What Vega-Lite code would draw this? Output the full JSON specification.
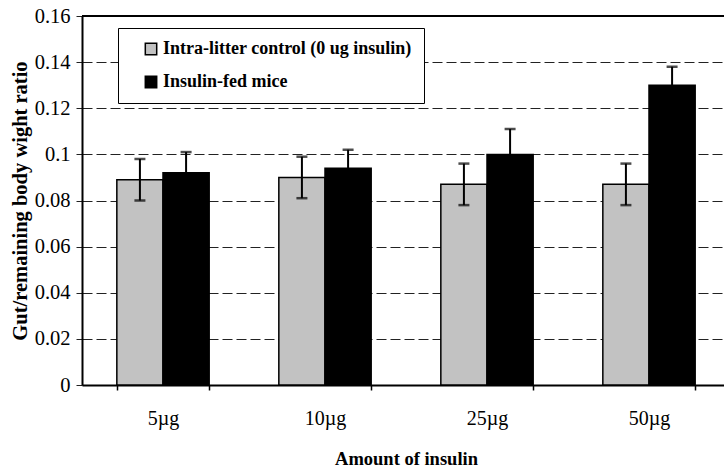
{
  "$schema": "https://vega.github.io/schema/vega-lite/v6.json",
  "autosize": {"type": "none"},
  "padding": {"left": 82, "top": 16, "right": 0, "bottom": 87},
  "width": 642,
  "height": 369,
  "background": "white",
  "config": {
    "view": {"stroke": null},
    "font": "Liberation Serif",
    "axisY": {"title": "Gut/remaining body wight ratio", "titleFontSize": 20.5, "titleFontWeight": "bold", "titleColor": "black", "titlePadding": 4,
      "values": [0, 0.02, 0.04, 0.06, 0.08, 0.1, 0.12, 0.14, 0.16], "format": "~g",
      "labelFontSize": 20.5, "labelColor": "black", "labelPadding": 6,
      "domainColor": "black", "domainWidth": 2, "tickColor": "#222", "tickSize": 6, "tickWidth": 1,
      "grid": true, "gridColor": "#222", "gridDash": [10, 4], "gridWidth": 1}
  },
  "data": {"values": [
    {"dose": "5µg", "group": "Intra-litter control (0 ug insulin)", "mean": 0.089, "lo": 0.080, "hi": 0.098},
    {"dose": "5µg", "group": "Insulin-fed mice", "mean": 0.092, "lo": 0.083, "hi": 0.101},
    {"dose": "10µg", "group": "Intra-litter control (0 ug insulin)", "mean": 0.090, "lo": 0.081, "hi": 0.099},
    {"dose": "10µg", "group": "Insulin-fed mice", "mean": 0.094, "lo": 0.086, "hi": 0.102},
    {"dose": "25µg", "group": "Intra-litter control (0 ug insulin)", "mean": 0.087, "lo": 0.078, "hi": 0.096},
    {"dose": "25µg", "group": "Insulin-fed mice", "mean": 0.100, "lo": 0.089, "hi": 0.111},
    {"dose": "50µg", "group": "Intra-litter control (0 ug insulin)", "mean": 0.087, "lo": 0.078, "hi": 0.096},
    {"dose": "50µg", "group": "Insulin-fed mice", "mean": 0.130, "lo": 0.122, "hi": 0.138}
  ]},
  "layer": [
    {
      "mark": {"type": "bar", "stroke": "black", "strokeWidth": 1.5},
      "encoding": {
        "x": {"field": "dose", "type": "nominal", "sort": ["5µg", "10µg", "25µg", "50µg"],
          "scale": {"range": [0, 648], "paddingInner": 0.43, "paddingOuter": 0.215},
          "axis": {"title": "Amount of insulin", "titleFontSize": 18.5, "titleFontWeight": "bold", "titleColor": "black", "titlePadding": 21,
            "labelAngle": 0, "labelFontSize": 20, "labelColor": "black", "labelPadding": 18,
            "domainColor": "black", "domainWidth": 2, "tickColor": "black", "tickSize": 5, "tickWidth": 1.5, "tickBand": "extent"}},
        "xOffset": {"field": "group", "type": "nominal", "sort": ["Intra-litter control (0 ug insulin)", "Insulin-fed mice"], "scale": {"paddingInner": 0, "paddingOuter": 0}},
        "y": {"field": "mean", "type": "quantitative", "scale": {"domain": [0, 0.16], "nice": false}, "title": "Gut/remaining body wight ratio"},
        "color": {"field": "group", "type": "nominal",
          "scale": {"domain": ["Intra-litter control (0 ug insulin)", "Insulin-fed mice"], "range": ["#c2c2c2", "black"]},
          "legend": {"orient": "none", "legendX": 36, "legendY": 12, "title": null,
            "fillColor": "white", "strokeColor": "black", "padding": 12, "rowPadding": 15,
            "symbolType": "square", "symbolSize": 130, "symbolStrokeColor": "black", "symbolStrokeWidth": 1.5, "symbolOffset": 12,
            "labelFontSize": 18, "labelFontWeight": "bold", "labelColor": "black", "labelOffset": 3, "labelLimit": 400}}
      }
    },
    {
      "mark": {"type": "rule", "color": "black", "strokeWidth": 2},
      "encoding": {
        "x": {"field": "dose", "type": "nominal", "sort": ["5µg", "10µg", "25µg", "50µg"]},
        "xOffset": {"field": "group", "type": "nominal", "sort": ["Intra-litter control (0 ug insulin)", "Insulin-fed mice"]},
        "y": {"field": "lo", "type": "quantitative", "title": "Gut/remaining body wight ratio"},
        "y2": {"field": "hi"}
      }
    },
    {
      "mark": {"type": "tick", "color": "black", "size": 11, "thickness": 2.5},
      "encoding": {
        "x": {"field": "dose", "type": "nominal", "sort": ["5µg", "10µg", "25µg", "50µg"]},
        "xOffset": {"field": "group", "type": "nominal", "sort": ["Intra-litter control (0 ug insulin)", "Insulin-fed mice"]},
        "y": {"field": "hi", "type": "quantitative", "title": "Gut/remaining body wight ratio"}
      }
    },
    {
      "mark": {"type": "tick", "color": "black", "size": 11, "thickness": 2.5},
      "encoding": {
        "x": {"field": "dose", "type": "nominal", "sort": ["5µg", "10µg", "25µg", "50µg"]},
        "xOffset": {"field": "group", "type": "nominal", "sort": ["Intra-litter control (0 ug insulin)", "Insulin-fed mice"]},
        "y": {"field": "lo", "type": "quantitative", "title": "Gut/remaining body wight ratio"}
      }
    },
    {
      "mark": {"type": "rule", "color": "black", "strokeWidth": 2},
      "encoding": {"y": {"datum": 0.16, "type": "quantitative", "title": "Gut/remaining body wight ratio"}}
    }
  ]
}
